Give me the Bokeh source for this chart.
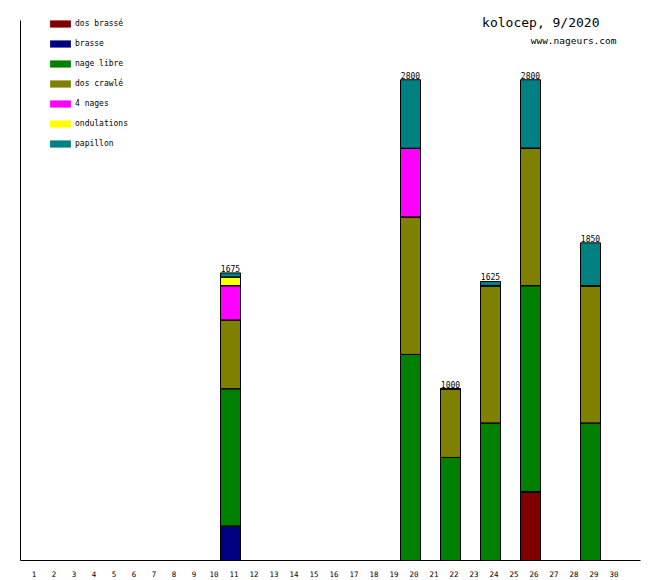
from bokeh.plotting import figure
from bokeh.models import (ColumnDataSource, Range1d, FixedTicker, Legend, LegendItem, Label,
                          CustomJSTickFormatter)
from bokeh.core.properties import value
from bokeh.embed import file_html
from bokeh.resources import INLINE

# ---- data ----
all_days = list(range(1, 31))
days = [11, 20, 22, 24, 26, 29]
strokes = ["dos brassé", "brasse", "nage libre", "dos crawlé", "4 nages", "ondulations", "papillon"]
colors = ["#800000", "#000080", "#008000", "#808000", "#ff00ff", "#ffff00", "#008080"]
dos_brasse = [0, 0, 0, 0, 400, 0]
brasse = [200, 0, 0, 0, 0, 0]
nage_libre = [800, 1200, 600, 800, 1200, 800]
dos_crawle = [400, 800, 400, 800, 800, 800]
quatre_nages = [200, 400, 0, 0, 0, 0]
ondulations = [50, 0, 0, 0, 0, 0]
papillon = [25, 400, 0, 25, 400, 250]
title_text = "kolocep, 9/2020"
subtitle_text = "www.nageurs.com"

keys = ["s0", "s1", "s2", "s3", "s4", "s5", "s6"]
series = [dos_brasse, brasse, nage_libre, dos_crawle, quatre_nages, ondulations, papillon]
data = {"day": days}
for k, s in zip(keys, series):
    data[k] = s
totals = [sum(v) for v in zip(*series)]
data["total"] = totals
data["total_label"] = [str(t) for t in totals]
source = ColumnDataSource(data)

MONO = "DejaVu Sans Mono"
AXIS_TOP = 3145                      # value at the top of the drawn y axis line
Y_END = AXIS_TOP * 560 / 540         # frame extends above the axis line for the titles
LABEL_SHIFT = 0.18                   # day labels sit slightly right of the bar centres

p = figure(width=660, height=580, output_backend="svg", toolbar_location=None,
           x_range=Range1d(0.5, 31.5), y_range=Range1d(0, Y_END),
           min_border_left=20, min_border_right=20, min_border_top=0, min_border_bottom=20)
p.outline_line_color = None
p.xgrid.visible = False
p.ygrid.visible = False
p.background_fill_color = "white"

# fills (used by the legend) and black outlines on top
fills = p.vbar_stack(keys, x="day", width=1, source=source, fill_color=colors,
                     line_color=None)
p.vbar_stack(keys, x="day", width=1, source=source, fill_color=None,
             line_color="black", line_width=1)

p.text(x="day", y="total", text="total_label", source=source,
       text_align="center", text_baseline="bottom", y_offset=-1,
       text_font=value(MONO), text_font_size="8px", text_color="black")

items = [LegendItem(label=name, renderers=[r]) for name, r in zip(strokes, fills)]
legend = Legend(items=items, location=(27, 412), glyph_width=26, glyph_height=9,
                label_height=9, label_standoff=2, spacing=11, padding=0, margin=0,
                border_line_color=None, background_fill_alpha=0,
                label_text_font=MONO, label_text_font_size="8px", label_text_color="black")
p.add_layout(legend, "center")

# axes
xa = p.xaxis[0]
xa.ticker = FixedTicker(ticks=[d + LABEL_SHIFT for d in all_days])
xa.formatter = CustomJSTickFormatter(code="return String(Math.round(tick - %s));" % LABEL_SHIFT)
xa.major_tick_line_color = None
xa.minor_tick_line_color = None
xa.major_tick_out = 0
xa.major_tick_in = 0
xa.major_label_standoff = 10
xa.major_label_text_font = MONO
xa.major_label_text_font_size = "7.5px"
xa.major_label_text_color = "black"
xa.axis_line_color = "black"

ya = p.yaxis[0]
ya.ticker = FixedTicker(ticks=[])
ya.bounds = (0, AXIS_TOP)
ya.major_tick_line_color = None
ya.minor_tick_line_color = None
ya.major_tick_out = 0
ya.major_tick_in = 0
ya.major_label_text_font_size = "0px"
ya.axis_line_color = "black"

p.add_layout(Label(x=579, y=538, x_units="screen", y_units="screen", text=title_text,
                   text_align="right", text_baseline="alphabetic",
                   text_font=MONO, text_font_size="13px", text_color="black"))
p.add_layout(Label(x=596, y=520, x_units="screen", y_units="screen", text=subtitle_text,
                   text_align="right", text_baseline="alphabetic",
                   text_font=MONO, text_font_size="9.5px", text_color="black"))

open("out.html", "w").write(file_html(p, INLINE))
